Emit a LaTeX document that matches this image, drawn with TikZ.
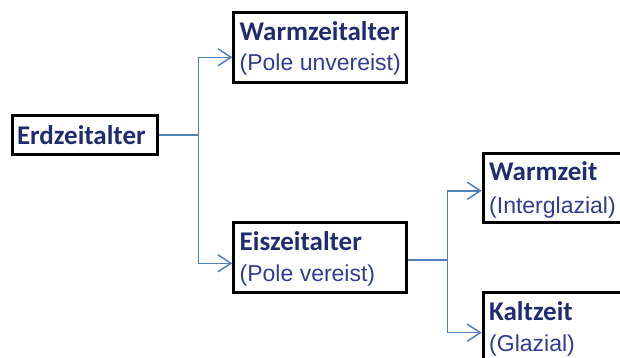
\documentclass[tikz,border=0pt]{standalone}
\usepackage{fontspec}
\setmainfont{Liberation Sans}
\newfontfamily\titlefont{Carlito}
\usetikzlibrary{arrows.meta}
\definecolor{titleblue}{HTML}{1F2D70}
\definecolor{subblue}{HTML}{2E3D92}
\definecolor{connblue}{HTML}{4F81BD}
\tikzset{
  box/.style={draw=black, line width=3pt, inner sep=0pt, anchor=north west},
  ttl/.style={anchor=base west, inner sep=0pt, text=titleblue, font=\titlefont\bfseries\fontsize{27}{30}\selectfont},
  sub/.style={anchor=base west, inner sep=0pt, text=subblue, font=\fontsize{23}{27}\selectfont},
  conn/.style={draw=connblue, line width=1.5pt},
  arr/.style={conn, -{Straight Barb[length=13pt, width=17pt, line width=1.5pt]}}
}
\begin{document}
\begin{tikzpicture}[x=1pt, y=-1pt]
\useasboundingbox (0,0) rectangle (620,357);
\fill[white] (0,0) rectangle (620,357);
\clip (0,0) rectangle (620,357);
% boxes (anchored at outer corner)
\node[box, minimum width=145pt, minimum height=38.4pt] (erd) at (11,114.3) {};
\node[box, minimum width=173pt, minimum height=70.3pt] (warmzeitalter) at (232.3,11) {};
\node[box, minimum width=173pt, minimum height=70pt] (eiszeitalter) at (232.3,221) {};
\node[box, minimum width=160pt, minimum height=69.3pt] (warmzeit) at (481.7,151.7) {};
\node[box, minimum width=160pt, minimum height=78pt] (kaltzeit) at (481.7,290.7) {};
% texts
\node[ttl] (t1) at (16.8,144) {Erdzeitalter};
\node[ttl] (t2) at (239.5,40) {Warmzeitalter};
\node[sub] (s2) at (239.5,70) {(Pole unvereist)};
\node[ttl] (t3) at (239.5,250) {Eiszeitalter};
\node[sub] (s3) at (239.5,281.5) {(Pole vereist)};
\node[ttl] (t4) at (489,180.7) {Warmzeit};
\node[sub] (s4) at (489,213) {(Interglazial)};
\node[ttl] (t5) at (489,320) {Kaltzeit};
\node[sub] (s5) at (489,351.5) {(Glazial)};
% connectors
\coordinate (x1) at (198.5,0);
\coordinate (x2) at (447.3,0);
\draw[conn] (erd.east) -- (erd.east -| x1) coordinate (j1);
\draw[arr] (j1) |- ([yshift=-9.6pt]warmzeitalter.west);
\draw[arr] (j1) |- ([yshift=-5.8pt]eiszeitalter.west);
\draw[conn] ([yshift=-2.5pt]eiszeitalter.east) coordinate (e2) -- (e2 -| x2) coordinate (j2);
\draw[arr] (j2) |- ([yshift=-2.9pt]warmzeit.west);
\draw[arr] (j2) |- ([yshift=-1.5pt]kaltzeit.west);
\end{tikzpicture}
\end{document}
